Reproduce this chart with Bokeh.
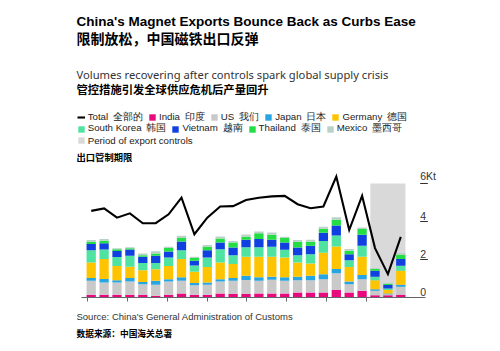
from bokeh.plotting import figure
from bokeh.models import Label, Legend, LegendItem, FixedTicker, Range1d, ColumnDataSource, Title
from bokeh.core.properties import value
from bokeh.embed import file_html
from bokeh.resources import INLINE

# ---------------- data (thousand tonnes, Kt) ----------------
months = ["2023-06", "2023-07", "2023-08", "2023-09", "2023-10", "2023-11", "2023-12",
          "2024-01", "2024-02", "2024-03", "2024-04", "2024-05", "2024-06", "2024-07",
          "2024-08", "2024-09", "2024-10", "2024-11", "2024-12", "2025-01", "2025-02",
          "2025-03", "2025-04", "2025-05", "2025-06"]
control_months = ["2025-04", "2025-05", "2025-06"]

total = [4.56, 4.69, 4.20, 4.43, 3.91, 3.91, 4.38, 5.26, 3.33, 4.20, 4.79, 4.81, 5.13,
         5.25, 5.32, 5.35, 4.91, 4.70, 4.79, 6.37, 3.55, 5.35, 2.60, 1.23, 3.19]

india = [0.14, 0.14, 0.14, 0.14, 0.14, 0.09, 0.14, 0.21, 0.14, 0.14, 0.21, 0.18, 0.18,
         0.21, 0.21, 0.21, 0.26, 0.26, 0.26, 0.39, 0.26, 0.35, 0.12, 0.12, 0.14]
us = [0.74, 0.65, 0.65, 0.70, 0.56, 0.58, 0.70, 0.67, 0.51, 0.53, 0.63, 0.70, 0.74,
      0.67, 0.72, 0.67, 0.65, 0.65, 0.70, 0.88, 0.44, 0.61, 0.23, 0.05, 0.42]
japan = [0.14, 0.18, 0.12, 0.18, 0.12, 0.21, 0.12, 0.18, 0.11, 0.12, 0.12, 0.14, 0.23,
         0.18, 0.16, 0.18, 0.18, 0.23, 0.26, 0.23, 0.14, 0.23, 0.09, 0.04, 0.11]
germany = [0.82, 1.05, 0.75, 0.60, 0.61, 0.61, 0.70, 0.96, 0.60, 0.82, 0.88, 0.74, 1.00,
           1.09, 1.05, 1.05, 0.75, 0.65, 1.14, 1.18, 0.77, 0.95, 0.47, 0.19, 0.74]
south_korea = [0.65, 0.51, 0.47, 0.58, 0.39, 0.32, 0.44, 0.47, 0.32, 0.49, 0.70, 0.47, 0.49,
               0.49, 0.53, 0.40, 0.39, 0.49, 0.61, 0.58, 0.35, 0.58, 0.18, 0.07, 0.26]
vietnam = [0.32, 0.32, 0.32, 0.32, 0.32, 0.39, 0.32, 0.46, 0.26, 0.39, 0.35, 0.40, 0.40,
           0.44, 0.37, 0.39, 0.40, 0.44, 0.44, 0.53, 0.32, 0.58, 0.32, 0.19, 0.35]
thailand = [0.12, 0.14, 0.09, 0.07, 0.09, 0.12, 0.18, 0.18, 0.14, 0.18, 0.21, 0.26, 0.16,
            0.30, 0.26, 0.23, 0.30, 0.21, 0.21, 0.30, 0.18, 0.30, 0.09, 0.07, 0.23]
mexico = [0.09, 0.09, 0.05, 0.05, 0.09, 0.11, 0.07, 0.12, 0.07, 0.09, 0.11, 0.09, 0.11,
          0.09, 0.12, 0.07, 0.09, 0.11, 0.11, 0.14, 0.09, 0.09, 0.05, 0.05, 0.09]

series_keys = ["india", "us", "japan", "germany", "south_korea", "vietnam", "thailand", "mexico"]
series_labels = ["India\u2002印度", "US\u2002我们", "Japan\u2002日本", "Germany\u2002德国",
                 "South Korea\u2002韩国", "Vietnam\u2002越南", "Thailand\u2002泰国", "Mexico\u2002墨西哥"]
series_colors = ["#e8097f", "#c9c9c9", "#27a5e3", "#ffc400", "#4fe3a1", "#1040e0", "#22dd44", "#b9d1c6"]

y_ticks = [0, 2, 4, 6]
y_tick_labels = ["0", "2", "4", "6Kt"]
x_tick_positions = [-0.3, 2.8, 5.9, 9.0, 12.05, 15.15, 18.25, 21.35]

# ---------------- layout constants ----------------
W = 500
FB = 297            # frame bottom (x axis line) in page pixels; frame top is 0
PX_X = 12.9         # px per month
PX_Y = 19.0         # px per Kt
FIRST_BAR = 90.7
x_start = (0 - FIRST_BAR) / PX_X
x_end = (W - FIRST_BAR) / PX_X
y_end = FB / PX_Y
BAR_W = 0.72

FONT = "Liberation Sans"
CJK = "Noto Sans CJK SC"

xs = list(range(len(months)))
data = dict(x=xs, india=india, us=us, japan=japan, germany=germany,
            south_korea=south_korea, vietnam=vietnam, thailand=thailand, mexico=mexico,
            total=total)
source = ColumnDataSource(data)

p = figure(frame_width=W, frame_height=FB, output_backend="svg", toolbar_location=None,
           x_range=Range1d(x_start, x_end), y_range=Range1d(0, y_end),
           min_border_left=0, min_border_right=0, min_border_top=0, min_border_bottom=0,
           y_axis_location=None, title=None)
p.outline_line_color = None
p.xgrid.visible = False
p.ygrid.visible = False
p.background_fill_color = "white"
p.border_fill_color = "white"

# shaded export-control period
ci = [months.index(m) for m in control_months]
shade = p.quad(left=[min(ci) - BAR_W / 2], right=[max(ci) + BAR_W / 2],
               bottom=[0], top=[y_ticks[-1]], fill_color="#d9d9d9", line_color=None)

bars = p.vbar_stack(series_keys, x="x", width=BAR_W, color=series_colors,
                    line_color=None, source=source)

tot = p.line("x", "total", source=source, line_color="black", line_width=2.1,
             line_join="miter")

# x axis (tick marks only)
ax = p.xaxis[0]
ax.ticker = FixedTicker(ticks=x_tick_positions)
ax.major_label_overrides = {t: "" for t in x_tick_positions}
ax.major_label_standoff = 0
ax.major_tick_out = 4
ax.major_tick_in = 0
ax.minor_tick_out = 0
ax.minor_tick_in = 0
ax.axis_line_color = "#666666"
ax.major_tick_line_color = "#666666"
ax.bounds = ((80.7 - FIRST_BAR) / PX_X, 25.9)

# y tick labels drawn at right inside the chart area
ylab_x = 25.5
p.text(x=[ylab_x] * len(y_ticks), y=y_ticks, text=y_tick_labels,
       text_font=value(FONT), text_font_size="10.5px", text_color="#333333",
       text_baseline="bottom", text_align="left", y_offset=-2)
tick_vals = [t for t in y_ticks if t > 0]
p.segment(x0=[ylab_x] * len(tick_vals), x1=[ylab_x + 0.6] * len(tick_vals),
          y0=tick_vals, y1=tick_vals, line_color="#333333", line_width=1)


def add_text(txt, X, Y, size, font, bold=False, color="#000000", baseline="alphabetic"):
    p.add_layout(Label(x=X, y=FB - Y, x_units="screen", y_units="screen", text=txt,
                       text_font=font, text_font_size=f"{size}px",
                       text_font_style="bold" if bold else "normal",
                       text_color=color, text_baseline=baseline, text_align="left"))


add_text("China's Magnet Exports Bounce Back as Curbs Ease", 76, 21, 13.5, FONT, bold=True)
add_text("限制放松，中国磁铁出口反弹", 76, 37.5, 14, CJK, bold=True, baseline="middle")
add_text("Volumes recovering after controls spark global supply crisis", 76, 73.5, 11.2,
         "Noto Sans", color="#333333")
add_text("管控措施引发全球供应危机后产量回升", 76, 88.5, 11.3, CJK, bold=True, baseline="middle")
add_text("出口管制期限", 76, 156.7, 9.3, CJK, bold=True, baseline="middle")


def make_legend(items, center_y):
    lh = 12
    lg = Legend(items=items, orientation="horizontal",
                location=(76.7, FB - (center_y - lh / 2) - lh),
                glyph_width=8, glyph_height=8, label_standoff=3, spacing=5,
                padding=0, margin=0, label_height=lh,
                label_text_font=FONT, label_text_font_size="9.7px",
                label_text_color="#222222", border_line_color=None,
                background_fill_alpha=0)
    p.add_layout(lg, "center")


row1 = [LegendItem(label="Total\u2002全部的", renderers=[tot])] + \
       [LegendItem(label=series_labels[i], renderers=[bars[i]]) for i in range(4)]
row2 = [LegendItem(label=series_labels[i], renderers=[bars[i]]) for i in range(4, 8)]
row3 = [LegendItem(label="Period of export controls", renderers=[shade])]
make_legend(row1, 117.7)
make_legend(row2, 129.0)
make_legend(row3, 140.3)

# footer (source) as titles below the axis; a blank spacer title first
p.add_layout(Title(text=" ", text_font_size="1px", standoff=2), "below")
p.add_layout(Title(text="Source: China's General Administration of Customs", align="left",
                   offset=76, text_font=FONT, text_font_size="9.5px",
                   text_font_style="normal", text_color="#333333", standoff=5), "below")
p.add_layout(Title(text="数据来源：中国海关总署", align="left", offset=76, text_font=CJK,
                   text_font_size="8.7px", text_font_style="bold", text_color="#000000",
                   standoff=0), "below")

open("out.html", "w").write(file_html(p, INLINE))
